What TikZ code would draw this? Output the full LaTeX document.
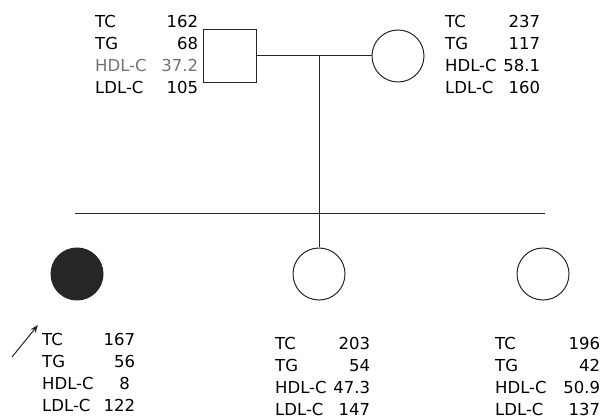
\documentclass[tikz,border=0pt]{standalone}
\usepackage{fontspec}
\setmainfont{DejaVu Sans}
\usetikzlibrary{arrows.meta}

\newcommand{\lipidtab}[6][black]{%
  \begin{tabular*}{#2}[t]{@{}l@{\extracolsep{\fill}}r@{}}
    TC & #3\\
    TG & #4\\
    \textcolor{#1}{HDL-C} & \textcolor{#1}{#5}\\
    LDL-C & #6
  \end{tabular*}}

\begin{document}
\begin{tikzpicture}[
  x=1pt, y=-1pt,
  line/.style={line width=1pt, draw=black!85},
  male/.style={draw=black!85, line width=1pt, minimum size=53pt, inner sep=0pt},
  female/.style={circle, draw=black!85, line width=1pt, minimum size=52pt, inner sep=0pt},
  affected/.style={female, fill=black!85},
  chart/.style={anchor=base west, inner sep=0pt, font=\fontsize{16.5}{22}\selectfont},
]
  \useasboundingbox (0,0) rectangle (602,419);

  % Parents
  \node[male] (father) at (230,56) {};
  \node[female] (mother) at (398,56) {};
  \coordinate (mate) at (319,56);
  \draw[line] (father.east) -- (mother.west);

  % Children
  \node[affected] (proband) at (77,274) {};
  \node[female] (sib1) at (319,274) {};
  \node[female] (sib2) at (543,274) {};
  \coordinate (sibL) at (75,214);
  \coordinate (sibR) at (545,214);
  \draw[line] (sibL) -- (sibR);
  \draw[line] (mate) -- (sib1.north);

  % Proband arrow
  \coordinate (ptail) at (12,357);
  \coordinate (ptip) at (38,325);
  \draw[line, -{Stealth[length=8pt, width=6pt]}] (ptail) -- (ptip);

  % Lipid values
  \node[chart] (fatherlab) at (95,28) {\lipidtab[black!55]{103pt}{162}{68}{37.2}{105}};
  \node[chart] (motherlab) at (445,28) {\lipidtab{95pt}{237}{117}{58.1}{160}};
  \node[chart] (probandlab) at (42,345) {\lipidtab{93pt}{167}{56}{8\hphantom{.}}{122}};
  \node[chart] (sib1lab) at (275,349) {\lipidtab{95pt}{203}{54}{47.3}{147}};
  \node[chart] (sib2lab) at (495,349) {\lipidtab{105pt}{196}{42}{50.9}{137}};
\end{tikzpicture}
\end{document}
